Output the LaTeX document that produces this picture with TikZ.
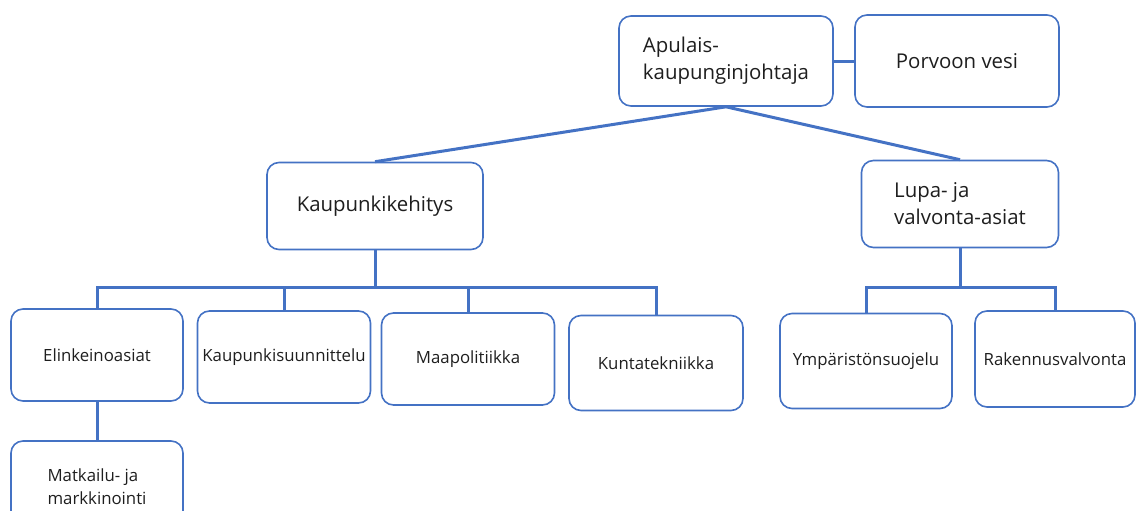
\documentclass[tikz,border=0pt]{standalone}
\usepackage{fontspec}
\setmainfont{Open Sans}
\definecolor{orgblue}{RGB}{68,114,196}
\definecolor{orgtext}{RGB}{30,30,30}

\begin{document}
\begin{tikzpicture}[
  x=0.5pt, y=-0.5pt,
  every node/.style={text=orgtext, inner sep=0pt},
  box/.style={draw=orgblue, line width=0.8pt, rounded corners=6pt, minimum height=46pt},
  big/.style={box, font=\fontsize{10.2}{13.5}\selectfont, align=left},
  small/.style={box, font=\fontsize{8.4}{11.5}\selectfont, align=left},
  link/.style={draw=orgblue, line width=1.5pt},
  ]
  \useasboundingbox (0,0) rectangle (1137,510);
  \clip (0,0) rectangle (1137,510);

  \node[big, minimum width=107pt, minimum height=45pt] (apu) at (726,61)
    {Apulais-\\kaupunginjohtaja};
  \node[big, minimum width=102pt] (porvoo) at (957,61) {Porvoon vesi};
  \node[big, minimum width=108pt, minimum height=43.5pt] (kehitys) at (375,206)
    {Kaupunkikehitys};
  \node[big, minimum width=98.5pt, minimum height=43.5pt] (lupa) at (960,204)
    {Lupa- ja\\valvonta-asiat};

  \node[small, minimum width=86pt] (elink) at (97,355) {Elinkeinoasiat};
  \node[small, minimum width=86.5pt] (suunn) at (284,357) {Kaupunkisuunnittelu};
  \node[small, minimum width=86.5pt] (maapol) at (468,359) {Maapolitiikka};
  \node[small, minimum width=87pt, minimum height=47.5pt] (kunta) at (656,363)
    {Kuntatekniikka};
  \node[small, minimum width=86pt, minimum height=47.5pt] (ymp) at (866,361)
    {Ympäristönsuojelu};
  \node[small, minimum width=80pt, minimum height=48pt] (rak) at (1055,359)
    {Rakennusvalvonta};
  \node[small, minimum width=86pt] (matk) at (97,487) {Matkailu- ja\\markkinointi};

  \draw[link] (apu.east) -- (porvoo.west);
  \draw[link] (apu.south) -- (kehitys.north);
  \draw[link] (apu.south) -- (lupa.north);

  \path (kehitys.south) ++(0,37) coordinate (kbus);
  \draw[link] (kehitys.south) -- (kbus);
  \draw[link] (elink.north) |- (kbus) -| (kunta.north);
  \foreach \n in {suunn,maapol}
    \draw[link] (\n.north) -- (\n.north |- kbus);

  \path (lupa.south) ++(0,39) coordinate (lbus);
  \draw[link] (lupa.south) -- (lbus);
  \draw[link] (ymp.north) |- (lbus) -| (rak.north);

  \draw[link] (elink.south) -- (matk.north);
\end{tikzpicture}
\end{document}
